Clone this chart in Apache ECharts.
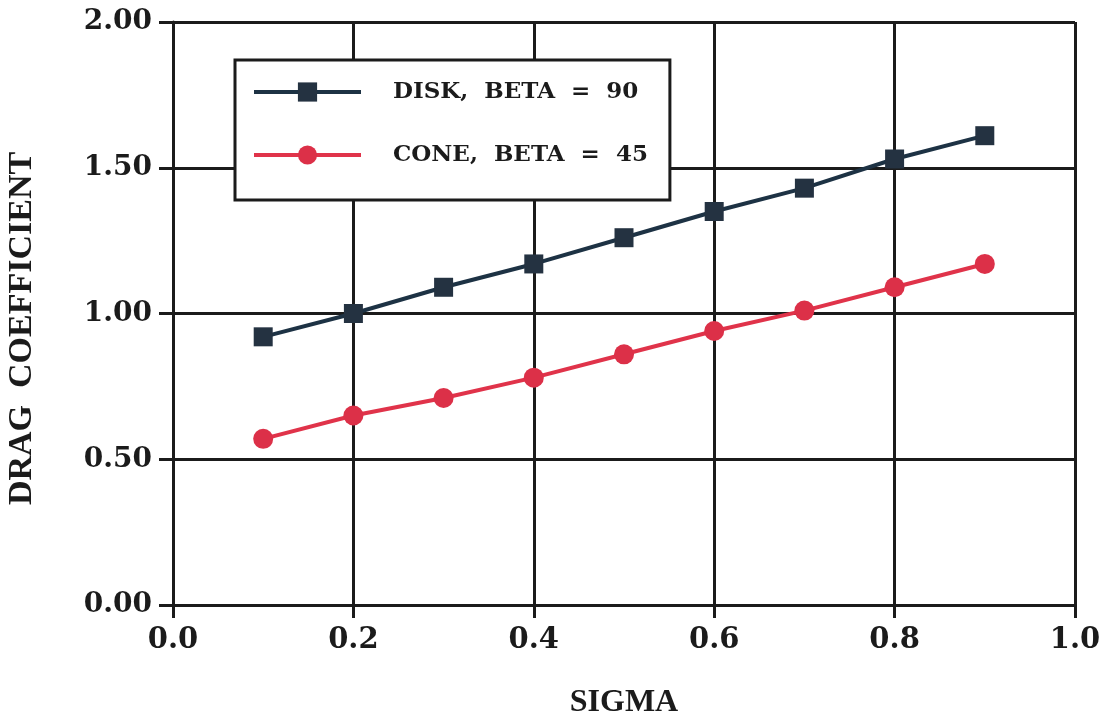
<!DOCTYPE html>
<html>
<head>
<meta charset="utf-8">
<script src="https://cdn.jsdelivr.net/npm/echarts@6/dist/echarts.min.js"></script>
<style>
  html, body { margin: 0; padding: 0; background: #ffffff; }
  #chart { width: 1103px; height: 717px; }
</style>
</head>
<body>
<div id="chart"></div>
<script>
// Drag coefficient versus sigma for a disk (beta = 90) and a cone (beta = 45)
const sigma = [0.1, 0.2, 0.3, 0.4, 0.5, 0.6, 0.7, 0.8, 0.9];
const diskCd = [0.92, 1.00, 1.09, 1.17, 1.26, 1.35, 1.43, 1.53, 1.61];
const coneCd = [0.57, 0.65, 0.71, 0.78, 0.86, 0.94, 1.01, 1.09, 1.17];
const seriesNames = ['DISK,  BETA  =  90', 'CONE,  BETA  =  45'];
const xTitle = 'SIGMA';
const yTitle = 'DRAG  COEFFICIENT';

const ink = '#1b1b1b';
const labelFont = 'DejaVu Serif';
const titleFont = 'Liberation Serif';

const pairs = (xs, ys) => xs.map((x, i) => [x, ys[i]]);

const chart = echarts.init(document.getElementById('chart'), null, { renderer: 'canvas' });

chart.setOption({
  backgroundColor: '#ffffff',
  animation: false,
  grid: { left: 173, right: 28, top: 22, bottom: 112, containLabel: false, outerBoundsMode: 'none' },
  legend: {
    orient: 'vertical',
    left: 235,
    top: 60,
    backgroundColor: '#ffffff',
    borderColor: ink,
    borderWidth: 3,
    borderRadius: 0,
    padding: [20, 22, 33, 17],
    itemWidth: 107,
    itemHeight: 24,
    itemGap: 39,
    lineStyle: { width: 4 },
    textStyle: {
      fontFamily: labelFont,
      fontWeight: 'bold',
      fontSize: 23,
      lineHeight: 24,
      color: ink,
      padding: [0, 0, 0, 27]
    },
    data: seriesNames
  },
  xAxis: {
    type: 'value',
    min: 0,
    max: 1,
    interval: 0.2,
    name: xTitle,
    nameLocation: 'middle',
    nameGap: 82,
    nameTextStyle: { fontFamily: titleFont, fontWeight: 'bold', fontSize: 32, color: ink },
    axisLine: { show: true, lineStyle: { color: ink, width: 3 } },
    axisTick: { show: true, inside: false, length: 13, lineStyle: { color: ink, width: 3 } },
    axisLabel: {
      margin: 21,
      fontFamily: labelFont,
      fontWeight: 'bold',
      fontSize: 29,
      color: ink,
      formatter: v => v.toFixed(1)
    },
    splitLine: { show: true, lineStyle: { color: ink, width: 3 } }
  },
  yAxis: {
    type: 'value',
    min: 0,
    max: 2,
    interval: 0.5,
    name: yTitle,
    nameLocation: 'middle',
    nameGap: 134,
    nameRotate: 90,
    nameTextStyle: {
      fontFamily: titleFont, fontWeight: 'bold', fontSize: 34, color: ink,
      padding: [0, 30, 0, 0]
    },
    axisLine: { show: true, lineStyle: { color: ink, width: 3 } },
    axisTick: { show: true, inside: false, length: 14, lineStyle: { color: ink, width: 3 } },
    axisLabel: {
      margin: 21,
      fontFamily: labelFont,
      fontWeight: 'bold',
      fontSize: 28,
      color: ink,
      formatter: v => v.toFixed(2)
    },
    splitLine: { show: true, lineStyle: { color: ink, width: 3 } }
  },
  series: [
    {
      name: seriesNames[0],
      type: 'line',
      data: pairs(sigma, diskCd),
      symbol: 'rect',
      symbolSize: 19,
      lineStyle: { color: '#1d3244', width: 4 },
      itemStyle: { color: '#243241', borderWidth: 0 },
      z: 5
    },
    {
      name: seriesNames[1],
      type: 'line',
      data: pairs(sigma, coneCd),
      symbol: 'circle',
      symbolSize: 20,
      lineStyle: { color: '#e0334a', width: 4 },
      itemStyle: { color: '#dc3048', borderWidth: 0 },
      z: 5
    }
  ]
});
</script>
</body>
</html>
